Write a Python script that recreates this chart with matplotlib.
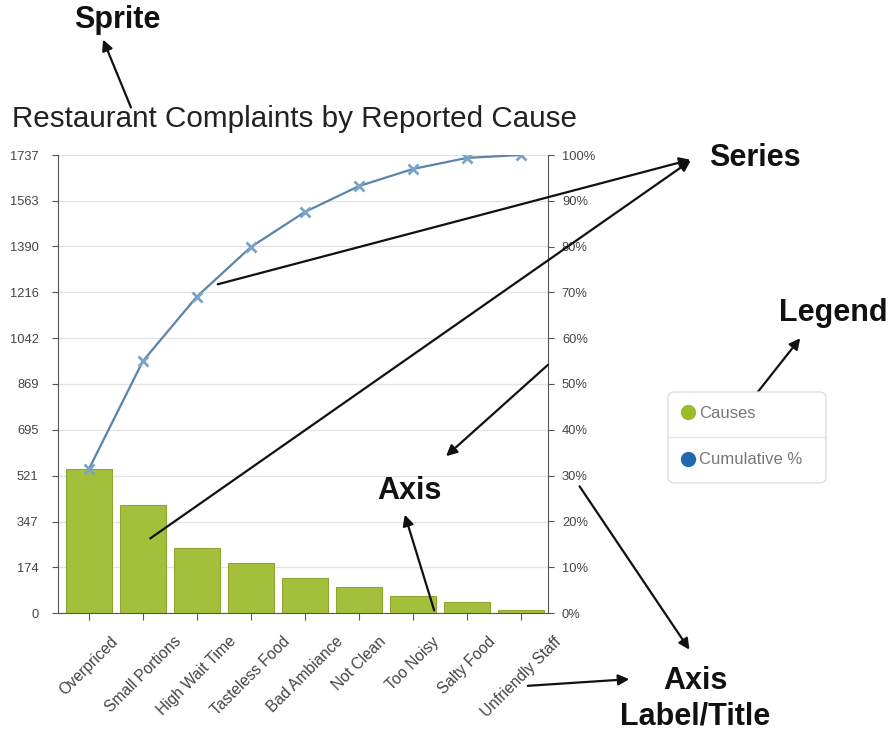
import matplotlib
matplotlib.use("Agg")
import matplotlib.pyplot as plt
from matplotlib.lines import Line2D
from matplotlib.patches import FancyBboxPatch, FancyArrowPatch

plt.rcParams['font.family'] = ['Liberation Sans', 'DejaVu Sans']

# data
causes = ["Overpriced", "Small Portions", "High Wait Time", "Tasteless Food",
          "Bad Ambiance", "Not Clean", "Too Noisy", "Salty Food", "Unfriendly Staff"]
counts = [545, 410, 245, 188, 133, 98, 65, 42, 11]
left_ticks = [0, 174, 347, 521, 695, 869, 1042, 1216, 1390, 1563, 1737]
pct_ticks = [0, 10, 20, 30, 40, 50, 60, 70, 80, 90, 100]

total = sum(counts)
cum_pct = []
running = 0
for c in counts:
    running += c
    cum_pct.append(running / total * 100)

W, H = 894, 733
fig = plt.figure(figsize=(W / 100, H / 100), dpi=100)
fig.patch.set_facecolor("white")


def px(x, y):
    """image pixel (top-left origin) -> figure fraction"""
    return x / W, 1 - y / H


l, t = px(58, 155)
r, b = px(548, 613)
ax = fig.add_axes([l, b, r - l, t - b])
ax2 = ax.twinx()

x = list(range(len(causes)))
ax.bar(x, counts, width=0.85, color="#a4bf3c", edgecolor="#8ea532", linewidth=0.8, zorder=2)
ax.set_xlim(-0.57, 8.5)
ax.set_ylim(0, 1737)
ax.set_yticks(left_ticks)
ax.set_yticklabels([str(v) for v in left_ticks], fontsize=9.3, color="#444444")
ax.set_xticks(x)
ax.set_xticklabels(causes, rotation=45, ha="center", va="top",
                   fontsize=11.2, color="#444444")
ax.grid(axis="y", color="#e3e3e3", linewidth=0.9, zorder=0)
ax.set_axisbelow(True)
for side in ["top", "right"]:
    ax.spines[side].set_visible(False)
ax.spines["left"].set_color("#555555")
ax.spines["bottom"].set_color("#555555")
ax.tick_params(axis="y", length=4, color="#555555", pad=10)
ax.tick_params(axis="x", length=5, color="#555555", pad=10)

ax2.plot(x, cum_pct, color="#5a84aa", linewidth=1.6, marker="x", markersize=7,
         markeredgewidth=2, markeredgecolor="#7aa3c8", zorder=3)
ax2.set_ylim(0, 100)
ax2.set_yticks(pct_ticks)
ax2.set_yticklabels([f"{v}%" for v in pct_ticks], fontsize=9.3, color="#444444")
for side in ["top", "left", "bottom"]:
    ax2.spines[side].set_visible(False)
ax2.spines["right"].set_color("#555555")
ax2.tick_params(axis="y", length=4, color="#555555", pad=6)

fig.text(*px(12, 119), "Restaurant Complaints by Reported Cause",
         fontsize=21.3, color="#222222", va="center", ha="left")

# legend box
bx0, by0 = px(668, 483)
bx1, by1 = px(826, 392)
fig.patches.append(FancyBboxPatch((bx0, by0), bx1 - bx0, by1 - by0,
                                  boxstyle="round,pad=0,rounding_size=0.008",
                                  transform=fig.transFigure, facecolor="white",
                                  edgecolor="#dddddd", linewidth=1))
fig.add_artist(Line2D([bx0, bx1], [px(0, 437)[1]] * 2, color="#e6e6e6",
                      linewidth=1, transform=fig.transFigure))
handles = [Line2D([], [], linestyle="none", marker="o", markersize=10,
                  color="#9dbb2e", label="Causes"),
           Line2D([], [], linestyle="none", marker="o", markersize=10,
                  color="#1f68ad", label="Cumulative %")]
fig.legend(handles=handles, loc="upper left", bbox_to_anchor=px(678, 404),
           frameon=False, fontsize=12, labelcolor="#777777",
           handletextpad=0.15, handlelength=1.0, labelspacing=1.9,
           borderaxespad=0, borderpad=0.1)

# callout labels
bold = dict(fontsize=22, fontweight="bold", color="#111111", va="center")
fig.text(*px(74, 20), "Sprite", ha="left", **bold)
fig.text(*px(709, 158), "Series", ha="left", **bold)
fig.text(*px(779, 313), "Legend", ha="left", **bold)
fig.text(*px(377, 491), "Axis", ha="left", **bold)
fig.text(*px(695, 699), "Axis\nLabel/Title", ha="center", linespacing=1.25, **bold)

arrows = [((132, 110), (102, 37)),
          ((215, 285), (693, 159)),
          ((148, 540), (693, 159)),
          ((742, 412), (802, 336)),
          ((550, 363), (444, 458)),
          ((435, 613), (404, 512)),
          ((578, 484), (691, 652)),
          ((525, 686), (632, 679))]
for tail, head in arrows:
    fig.add_artist(FancyArrowPatch(
        px(*tail), px(*head), transform=fig.transFigure,
        arrowstyle="-|>", mutation_scale=16, color="#111111", linewidth=1.6))

fig.savefig("out.png", dpi=100)
